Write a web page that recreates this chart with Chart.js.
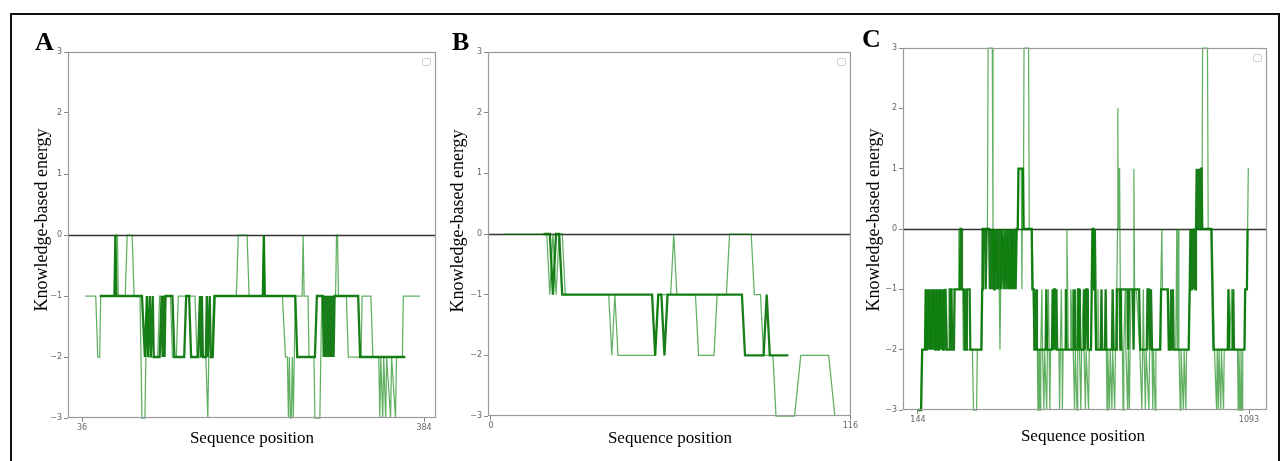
<!DOCTYPE html>
<html>
<head>
<meta charset="utf-8">
<script src="https://cdn.jsdelivr.net/npm/chart.js@4.4.1/dist/chart.umd.min.js"></script>
<style>
  body { margin: 0; background: #fff; width: 1282px; height: 461px; overflow: hidden; position: relative; font-family: "Liberation Serif", "Times New Roman", serif; color: #000; }
  #frame { position: absolute; left: 10px; top: 13px; width: 1266px; height: 470px; border: 2px solid #111; }
  canvas { position: absolute; }
  .letter { position: absolute; font-weight: bold; font-size: 26px; line-height: 1; }
  .ytitle { position: absolute; font-size: 18px; line-height: 1; white-space: nowrap; transform: translate(-50%, -50%) rotate(-90deg); }
  .xtitle { position: absolute; font-size: 17px; line-height: 1; white-space: nowrap; transform: translateX(-50%); }
</style>
</head>
<body>
<div id="frame"></div>
<canvas id="chartA" width="414" height="394" style="left:28px;top:40px"></canvas>
<canvas id="chartB" width="411" height="392" style="left:448px;top:40px"></canvas>
<canvas id="chartC" width="410" height="390" style="left:863px;top:36px"></canvas>

<div class="letter" style="left:35px;top:29px">A</div>
<div class="letter" style="left:452px;top:29px">B</div>
<div class="letter" style="left:862px;top:26px">C</div>
<div class="ytitle" style="left:41px;top:220px">Knowledge-based energy</div>
<div class="ytitle" style="left:457px;top:221px">Knowledge-based energy</div>
<div class="ytitle" style="left:873px;top:220px">Knowledge-based energy</div>
<div class="xtitle" style="left:252px;top:429px">Sequence position</div>
<div class="xtitle" style="left:670px;top:429px">Sequence position</div>
<div class="xtitle" style="left:1083px;top:427px">Sequence position</div>

<script>
// [sequence position, energy] vertices

// A: residues 36..384
const aLight = [[39,-1],[50,-1],[52,-2],[54,-2],[55,-1],[69,-1],[70,0],[72,0],[73,-1],[80,-1],[82,0],[87,0],[89,-1],[95,-1],[96,-2],[97,-3],[100,-3],[102,-1],[104,-2],[113,-2],[115,-1],[126,-1],[128,-2],[132,-2],[134,-1],[151,-1],[153,-2],[162,-2],[164,-3],[165,-2],[168,-2],[170,-1],[193,-1],[195,0],[204,0],[206,-1],[220,-1],[221,0],[222,-1],[240,-1],[243,-2],[245,-2],[246,-3],[247,-2],[248,-3],[249,-3],[250,-2],[251,-3],[253,-1],[260,-1],[261,0],[262,-1],[266,-1],[267,-2],[272,-2],[273,-3],[278,-3],[280,-1],[294,-1],[295,0],[296,0],[297,-1],[305,-1],[307,-2],[320,-2],[321,-1],[330,-1],[332,-2],[338,-2],[339,-3],[340,-2],[342,-3],[343,-2],[345,-3],[346,-2],[350,-3],[351,-2],[355,-3],[356,-2],[362,-2],[363,-1],[380,-1]];
const aDark = [[54,-1],[69,-1],[70,0],[71,-1],[97,-1],[100,-2],[102,-1],[103,-2],[105,-1],[106,-2],[108,-1],[109,-2],[115,-2],[117,-1],[118,-2],[119,-1],[120,-2],[121,-1],[128,-1],[130,-2],[140,-2],[142,-1],[145,-1],[147,-2],[154,-2],[156,-1],[157,-2],[158,-1],[159,-2],[162,-2],[163,-1],[164,-2],[166,-1],[167,-2],[169,-2],[171,-1],[220,-1],[221,0],[222,-1],[253,-1],[255,-2],[273,-2],[275,-1],[281,-1],[282,-2],[283,-1],[284,-2],[285,-1],[286,-2],[287,-1],[288,-2],[289,-1],[290,-2],[291,-1],[292,-2],[293,-1],[317,-1],[319,-2],[365,-2]];
const aTicks = [36, 384];

// B: residues 0..116
const bLight = [[4,0],[18,0],[19,-1],[20,0],[21,-1],[22,0],[23,0],[24,-1],[38,-1],[39,-2],[40,-1],[41,-2],[53,-2],[54,-1],[58,-1],[59,0],[60,-1],[66,-1],[67,-2],[72,-2],[73,-1],[76,-1],[77,0],[84,0],[85,-1],[87,-1],[88,-2],[91,-2],[92,-3],[98,-3],[100,-2],[109,-2],[111,-3]];
const bDark = [[17,0],[19,0],[20,-1],[21,0],[22,0],[23,-1],[52,-1],[53,-2],[54,-1],[55,-1],[56,-2],[57,-1],[81,-1],[82,-2],[88,-2],[89,-1],[90,-2],[96,-2]];
const bTicks = [0, 116];

// C: residues 144..1093
const cLight = [[144,-3],[152,-3],[155,-2],[165,-2],[167,-1],[170,-2],[176,-1],[181,-2],[187,-1],[192,-2],[197,-1],[203,-2],[208,-1],[214,-2],[219,-1],[225,-1],[228,-2],[236,-2],[238,-1],[259,-1],[261,0],[263,-1],[272,-1],[274,-2],[300,-2],[303,-3],[312,-3],[314,-2],[325,-2],[328,0],[343,0],[345,3],[357,3],[359,0],[362,-1],[366,0],[374,-1],[377,-1],[379,-2],[381,-1],[386,0],[395,-1],[398,0],[410,-1],[414,0],[420,-1],[426,0],[430,0],[432,1],[440,1],[442,-1],[444,1],[445,1],[446,0],[448,3],[461,3],[463,0],[471,0],[474,-1],[477,-2],[486,-2],[488,-3],[490,-3],[492,-2],[494,-3],[496,-2],[499,-1],[501,-2],[505,-3],[507,-2],[513,-3],[515,-2],[518,-1],[520,-2],[522,-3],[524,-2],[530,-2],[532,-1],[535,-2],[548,-2],[550,-3],[552,-2],[555,-1],[557,-2],[558,-3],[560,-2],[566,-2],[569,-1],[571,0],[573,-1],[575,-2],[580,-2],[582,-1],[584,-2],[587,-1],[589,-2],[593,-3],[595,-2],[600,-3],[602,-2],[605,-1],[607,-2],[611,-3],[613,-2],[618,-1],[620,-2],[624,-3],[626,-2],[633,-3],[635,-2],[640,-2],[645,0],[648,0],[650,-1],[653,-2],[658,-2],[660,-1],[662,-2],[684,-2],[686,-3],[688,-2],[693,-3],[695,-2],[700,-3],[702,-2],[708,-3],[710,-2],[714,-1],[716,0],[717,2],[718,0],[720,1],[722,1],[724,-1],[730,-2],[732,-3],[734,-2],[738,-1],[740,-2],[745,-3],[747,-2],[750,-3],[752,-2],[755,-1],[761,-1],[763,1],[765,-1],[770,-1],[780,-2],[786,-3],[788,-2],[790,-1],[792,-2],[796,-3],[798,-2],[806,-3],[808,-2],[815,-2],[817,-3],[819,-2],[824,-3],[826,-2],[838,-2],[840,-1],[843,0],[845,-1],[862,-1],[865,-2],[883,-2],[886,0],[888,-2],[890,0],[892,-2],[896,-3],[898,-2],[905,-3],[907,-2],[912,-3],[914,-2],[920,-2],[923,-1],[930,0],[958,0],[960,3],[974,3],[976,0],[987,0],[990,-1],[994,-2],[1000,-3],[1002,-2],[1005,-3],[1007,-2],[1012,-3],[1014,-2],[1020,-3],[1022,-2],[1033,-2],[1035,-1],[1037,-2],[1043,-1],[1045,-2],[1060,-2],[1062,-3],[1064,-2],[1068,-3],[1070,-2],[1073,-3],[1075,-2],[1080,-2],[1083,-1],[1087,-1],[1089,0],[1091,1],[1093,1]];
const cDark = [[144,-3],[153,-3],[156,-2],[164,-2],[166,-1],[167,-2],[169,-1],[171,-2],[173,-1],[175,-2],[177,-1],[180,-2],[182,-1],[184,-2],[186,-1],[189,-2],[191,-1],[193,-2],[195,-1],[198,-2],[200,-1],[202,-2],[204,-1],[207,-2],[209,-1],[211,-2],[213,-1],[216,-2],[218,-1],[220,-2],[222,-1],[224,-1],[226,-2],[233,-2],[235,-1],[240,-1],[242,-2],[247,-2],[249,-1],[264,-1],[266,0],[268,0],[270,-1],[276,-1],[278,-2],[282,-2],[284,-1],[292,-1],[294,-2],[326,-2],[328,-1],[330,0],[336,0],[338,-1],[341,0],[348,0],[350,-1],[352,0],[356,-1],[358,0],[362,-1],[364,0],[368,-1],[371,0],[375,-1],[378,0],[382,-1],[385,0],[390,-1],[393,0],[398,-1],[401,0],[405,-1],[408,0],[412,-1],[415,0],[418,-1],[421,0],[424,-1],[427,0],[430,0],[432,1],[445,1],[447,0],[470,0],[472,-1],[476,-1],[478,-2],[481,-2],[483,-1],[485,-2],[510,-2],[512,-1],[514,-2],[528,-2],[530,-1],[532,-2],[534,-1],[537,-1],[539,-2],[541,-1],[543,-2],[566,-2],[568,-1],[570,-2],[590,-2],[592,-1],[594,-2],[601,-2],[603,-1],[606,-1],[608,-2],[619,-2],[621,-1],[623,-2],[626,-1],[629,-1],[631,-2],[640,-2],[642,-1],[644,0],[647,0],[649,-1],[651,0],[653,-1],[655,-2],[668,-2],[670,-1],[672,-2],[680,-2],[682,-1],[684,-2],[700,-2],[702,-1],[705,-2],[712,-2],[714,-1],[722,-1],[724,-2],[726,-1],[745,-1],[747,-2],[749,-1],[760,-1],[762,-2],[764,-1],[778,-1],[781,-2],[800,-2],[802,-1],[806,-1],[808,-2],[812,-1],[815,-2],[838,-2],[841,-1],[860,-1],[863,-2],[868,-2],[870,-1],[872,-2],[875,-1],[877,-2],[920,-2],[923,-1],[925,0],[927,-1],[929,0],[931,-1],[933,0],[935,-1],[937,0],[939,-1],[941,0],[943,1],[945,0],[947,1],[949,0],[951,1],[953,0],[955,1],[957,1],[959,0],[985,0],[988,-1],[991,-2],[1032,-2],[1034,-1],[1036,-2],[1046,-2],[1048,-1],[1050,-2],[1080,-2],[1082,-1],[1087,-1],[1089,0]];
const cTicks = [144, 1093];

const yTicks = [-3, -2, -1, 0, 1, 2, 3];

function pts(arr) {
  return arr.map(([x, y]) => ({ x, y }));
}

const panelFrame = {
  id: 'panelFrame',
  beforeDatasetsDraw(chart) {
    const { ctx, chartArea: a, scales } = chart;
    const y0 = Math.round(scales.y.getPixelForValue(0)) + 0.5;
    ctx.save();
    ctx.strokeStyle = '#333';
    ctx.lineWidth = 1.6;
    ctx.beginPath();
    ctx.moveTo(a.left, y0);
    ctx.lineTo(a.right, y0);
    ctx.stroke();
    ctx.restore();
  },
  afterDatasetsDraw(chart) {
    const { ctx, chartArea: a } = chart;
    ctx.save();
    ctx.strokeStyle = '#9a9a9a';
    ctx.lineWidth = 1.2;
    ctx.strokeRect(a.left + 0.5, a.top + 0.5, a.right - a.left - 1, a.bottom - a.top - 1);
    // empty legend box, top right
    ctx.strokeStyle = '#d0d0d0';
    ctx.lineWidth = 1;
    ctx.beginPath();
    ctx.roundRect(a.right - 13.5, a.top + 6.5, 8, 7, 1.5);
    ctx.stroke();
    ctx.restore();
  }
};

function makePanel(id, light, dark, xmin, xmax, xTicks) {
  const ctx = document.getElementById(id).getContext('2d');
  return new Chart(ctx, {
    type: 'line',
    data: {
      datasets: [
        { data: pts(light), borderColor: 'rgba(0,128,0,0.62)', borderWidth: 1.25, pointRadius: 0, tension: 0, clip: 2 },
        { data: pts(dark), borderColor: 'rgba(0,112,0,0.9)', borderWidth: 2.3, pointRadius: 0, tension: 0, clip: 2 }
      ]
    },
    options: {
      responsive: false,
      animation: false,
      parsing: false,
      layout: { padding: { top: 12, right: 6, left: 0, bottom: 0 } },
      plugins: { legend: { display: false }, tooltip: { enabled: false } },
      scales: {
        x: {
          type: 'linear',
          min: xmin,
          max: xmax,
          afterBuildTicks: scale => { scale.ticks = xTicks.map(v => ({ value: v })); },
          afterFit: scale => { scale.height = 16; },
          grid: { drawOnChartArea: false, tickLength: 4, color: '#888' },
          border: { display: false },
          ticks: { font: { family: 'DejaVu Sans', size: 8 }, color: '#666', padding: 1, maxRotation: 0, autoSkip: false, callback: v => String(v) }
        },
        y: {
          min: -3,
          max: 3,
          afterBuildTicks: scale => { scale.ticks = yTicks.map(v => ({ value: v })); },
          afterFit: scale => { scale.width = 40; },
          grid: { drawOnChartArea: false, tickLength: 4, color: '#888' },
          border: { display: false },
          ticks: {
            font: { family: 'DejaVu Sans', size: 8 }, color: '#666', padding: 2,
            callback: v => v < 0 ? '\u2212' + (-v) : String(v)
          }
        }
      }
    },
    plugins: [panelFrame]
  });
}

makePanel('chartA', aLight, aDark, 21.75, 396.2, aTicks);
makePanel('chartB', bLight, bDark, -0.96, 116.2, bTicks);
makePanel('chartC', cLight, cDark, 101, 1144.6, cTicks);
</script>
</body>
</html>
